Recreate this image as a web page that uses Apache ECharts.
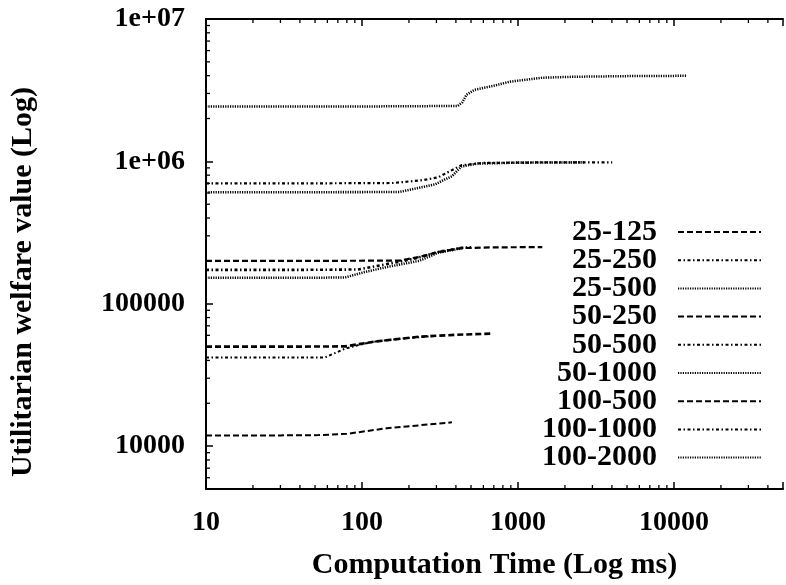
<!DOCTYPE html>
<html>
<head>
<meta charset="utf-8">
<title>Utilitarian welfare vs computation time</title>
<script src="https://cdn.jsdelivr.net/npm/echarts@6/dist/echarts.min.js"></script>
<style>
  html, body { margin: 0; padding: 0; background: #fff; }
  #chart { width: 786px; height: 585px; }
</style>
</head>
<body>
<div id="chart"></div>
<script>
// series names, legend order
const seriesNames = ['25-125', '25-250', '25-500', '50-250', '50-500', '50-1000', '100-500', '100-1000', '100-2000']

// computation time (ms) / welfare value for each run
const t_25_125 = [10, 30, 53, 80, 144, 232, 377]
const v_25_125 = [11900, 11900, 11950, 12200, 13350, 14000, 14700]

const t_25_250 = [10, 40, 58, 78, 100, 120, 180, 295]
const v_25_250 = [41900, 41900, 42000, 48400, 52000, 54200, 57000, 59500]

const t_25_500 = [10, 40, 78, 104, 144, 232, 308, 450]
const v_25_500 = [152000, 152000, 153000, 167000, 181000, 200000, 228000, 247000]

const t_50_250 = [10, 40, 78, 120, 232, 400, 669]
const v_50_250 = [50000, 50000, 50200, 54200, 58700, 60500, 61700]

const t_50_500 = [10, 40, 94, 144, 212, 308, 435, 500]
const v_50_500 = [173000, 173000, 174000, 190000, 206000, 231000, 247000, 249000]

const t_50_1000 = [10, 50, 174, 295, 341, 377, 435, 550, 1000, 2654]
const v_50_1000 = [607000, 607000, 610000, 690000, 748000, 785000, 922000, 965000, 980000, 984000]

const t_100_500 = [10, 50, 174, 232, 308, 435, 700, 1432]
const v_100_500 = [200000, 200000, 201000, 213000, 231000, 246000, 249000, 250000]

const t_100_1000 = [10, 50, 159, 250, 308, 341, 435, 600, 1500, 4018]
const v_100_1000 = [701000, 701000, 705000, 740000, 773000, 820000, 940000, 975000, 984000, 984000]

const t_100_2000 = [10, 100, 411, 440, 468, 525, 699, 891, 1432, 2297, 5000, 11960]
const v_100_2000 = [2430000, 2430000, 2450000, 2600000, 2940000, 3180000, 3400000, 3630000, 3870000, 3930000, 3970000, 3990000]

// tick labels (by power of ten)
const xTickExp = [1, 2, 3, 4]
const xTickLabels = ['10', '100', '1000', '10000']
const yTickExp = [4, 5, 6, 7]
const yTickLabels = ['10000', '100000', '1e+06', '1e+07']

const xMin = 10
const xMax = 50000
const yMin = 5000
const yMax = 10000000

const FONT = '"Liberation Serif", "Times New Roman", serif'

const times = [t_25_125, t_25_250, t_25_500, t_50_250, t_50_500, t_50_1000, t_100_500, t_100_1000, t_100_2000]
const values = [v_25_125, v_25_250, v_25_500, v_50_250, v_50_500, v_50_1000, v_100_500, v_100_1000, v_100_2000]

const dashed = [6, 3]
const dashDot = [3, 2.5, 1.5, 2.5]
const dotted = [1.2, 1.2]
const lineTypes = [dashed, dashDot, dotted, dashed, dashDot, dotted, dashed, dashDot, dotted]
const lineWidths = [2, 2, 2.5, 2.6, 2.6, 2.6, 2.2, 2.2, 2.5]

function tickFormatter(exps, labels) {
  return function (value) {
    const e = Math.log10(value)
    const r = Math.round(e)
    if (Math.abs(e - r) > 1e-6) return ''
    const i = exps.indexOf(r)
    return i < 0 ? '' : labels[i]
  }
}

// log-spaced minor ticks (2..9 x 10^k) inside the frame
const minorTicks = []
for (let k = 0; k <= 7; k++) {
  for (let m = 2; m <= 9; m++) {
    const v = m * Math.pow(10, k)
    if (v > xMin && v < xMax) minorTicks.push([v, yMin, 0])
    if (v > yMin && v < yMax) minorTicks.push([xMin, v, 1])
  }
}

const chart = echarts.init(document.getElementById('chart'))

const lineSeries = seriesNames.map((name, i) => {
  return {
    name: name,
    type: 'line',
    symbol: 'none',
    silent: true,
    lineStyle: {
      color: '#000',
      width: lineWidths[i],
      type: lineTypes[i]
    },
    data: times[i].map((t, j) => [t, values[i][j]])
  }
})

const axisBase = {
  type: 'log',
  logBase: 10,
  axisLine: { show: true, onZero: false, lineStyle: { color: '#000', width: 2 } },
  axisTick: { inside: true, length: 7, lineStyle: { color: '#000', width: 1.5 } },
  splitLine: { show: false }
}

chart.setOption({
  animation: false,
  backgroundColor: '#fff',
  textStyle: { fontFamily: FONT },
  grid: {
    left: 204,
    top: 19,
    right: -12,
    bottom: 96
  },
  legend: {
    data: seriesNames,
    orient: 'vertical',
    align: 'right',
    right: 24,
    top: 217,
    padding: 0,
    itemWidth: 83,
    itemHeight: 12,
    itemGap: -1.8,
    itemStyle: { opacity: 0 },
    textStyle: {
      fontFamily: FONT,
      fontWeight: 'bold',
      fontSize: 30,
      lineHeight: 28,
      padding: [0, 16, 0, 0],
      color: '#000'
    }
  },
  xAxis: [
    Object.assign({}, axisBase, {
      position: 'bottom',
      min: xMin,
      max: xMax,
      name: 'Computation Time (Log ms)',
      nameLocation: 'middle',
      nameGap: 61,
      nameTextStyle: { fontFamily: FONT, fontWeight: 'bold', fontSize: 30, color: '#000' },
      axisLabel: {
        margin: 20,
        fontFamily: FONT,
        fontWeight: 'bold',
        fontSize: 28,
        color: '#000',
        formatter: tickFormatter(xTickExp, xTickLabels)
      }
    }),
    Object.assign({}, axisBase, {
      position: 'top',
      min: xMin,
      max: xMax,
      axisLabel: { show: false }
    })
  ],
  yAxis: {
    type: 'log',
    logBase: 10,
    min: yMin,
    max: yMax,
    axisLine: { show: true, onZero: false, lineStyle: { color: '#000', width: 2 } },
    axisTick: { inside: true, length: 7, lineStyle: { color: '#000', width: 1.5 } },
    splitLine: { show: false },
    name: 'Utilitarian welfare value (Log)',
    nameLocation: 'middle',
    nameGap: 168,
    nameTextStyle: {
      fontFamily: FONT,
      fontWeight: 'bold',
      fontSize: 30,
      color: '#000',
      padding: [0, 56, 0, 0]
    },
    axisLabel: {
      margin: 21,
      fontFamily: FONT,
      fontWeight: 'bold',
      fontSize: 28,
      color: '#000',
      formatter: tickFormatter(yTickExp, yTickLabels)
    }
  },
  series: lineSeries.concat([{
    name: 'minor-ticks',
    type: 'custom',
    silent: true,
    clip: false,
    renderItem(params, api) {
      const x = api.value(0)
      const y = api.value(1)
      const style = { stroke: '#000', lineWidth: 1.3 }
      if (api.value(2) === 0) {
        const b = api.coord([x, yMin])
        const t = api.coord([x, yMax])
        return {
          type: 'group',
          children: [
            { type: 'line', shape: { x1: b[0], y1: b[1], x2: b[0], y2: b[1] - 4 }, style: style },
            { type: 'line', shape: { x1: t[0], y1: t[1], x2: t[0], y2: t[1] + 4 }, style: style }
          ]
        }
      }
      const l = api.coord([xMin, y])
      return { type: 'line', shape: { x1: l[0], y1: l[1], x2: l[0] + 4, y2: l[1] }, style: style }
    },
    data: minorTicks
  }])
})
</script>
</body>
</html>
